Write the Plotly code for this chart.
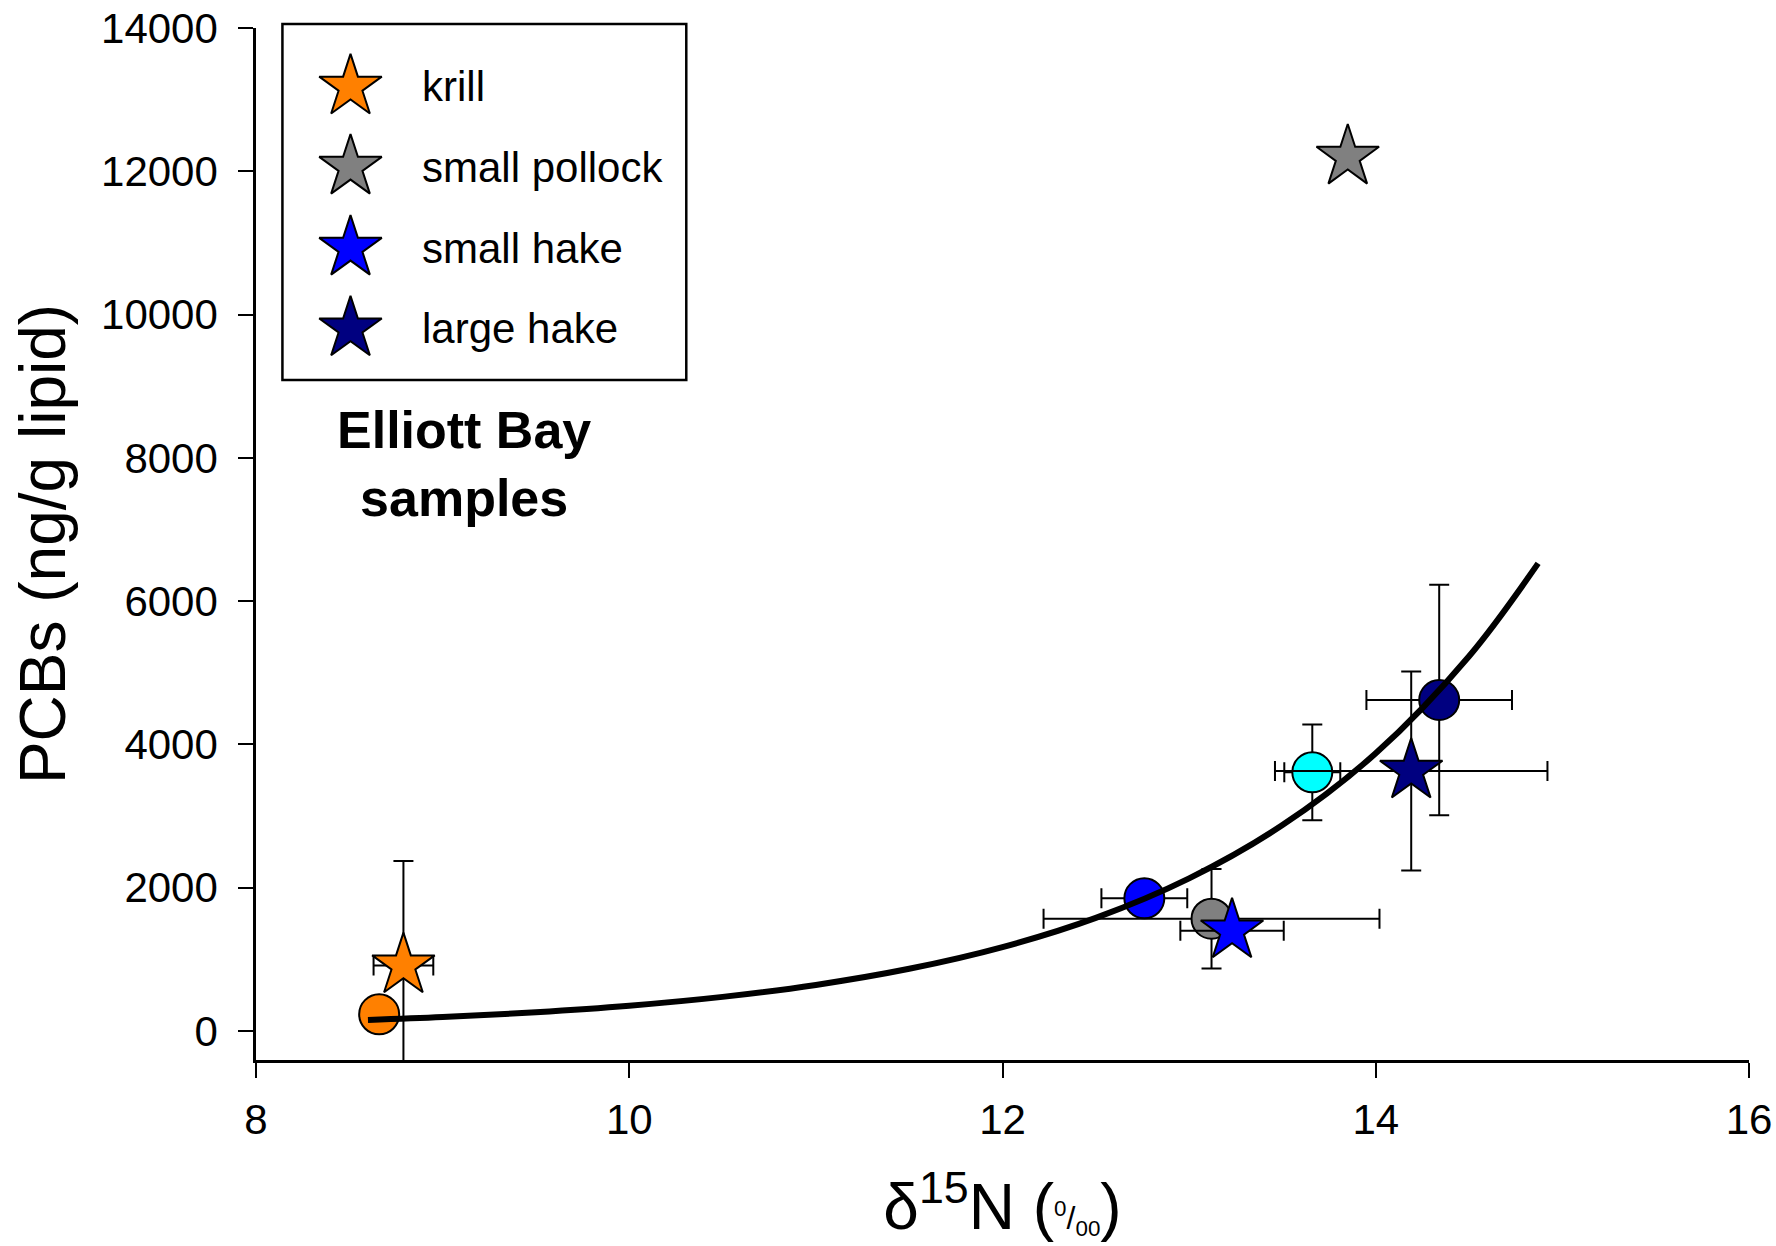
import plotly.graph_objects as go

# ---------------- data ----------------
# circles (other sample set, no legend entry)
circle_x = [8.66, 12.76, 13.12, 13.66, 14.34]
circle_y = [233, 1852, 1567, 3611, 4620]
circle_xerr = [0, 0.23, 0.90, 0.15, 0.39]
circle_yerr = [0, 0, 695, 668, 1607]
circle_colors = ["#FF8000", "#0000FF", "#808080", "#00FFFF", "#000080"]

# stars (Elliott Bay samples)
star_names = ["krill", "small pollock", "small hake", "large hake"]
star_x = [8.79, 13.85, 13.23, 14.19]
star_y = [913, 12200, 1400, 3630]
star_xerr = [0.16, 0, 0.277, 0.73]
star_yerr = [1460, 0, 0, 1389]
star_colors = ["#FF8000", "#808080", "#0000FF", "#000080"]

# fitted curve, points
curve_x = [8.6, 9.0, 9.5, 10.0, 10.5, 11.0, 11.5, 12.0, 12.5, 13.0, 13.5, 14.0, 14.5, 14.87]
curve_y = [153, 194, 262, 353, 476, 643, 868, 1171, 1579, 2130, 2874, 3876, 5231, 6527]

x_ticks = [8, 10, 12, 14, 16]
y_ticks = [0, 2000, 4000, 6000, 8000, 10000, 12000, 14000]

FONT = "Liberation Sans, Arial, sans-serif"

fig = go.Figure()

fig.add_trace(go.Scatter(
    x=circle_x, y=circle_y, mode="markers", showlegend=False,
    marker=dict(symbol="circle", size=40, color=circle_colors,
                line=dict(color="black", width=2)),
    error_x=dict(type="data", array=circle_xerr, color="black", thickness=2, width=10),
    error_y=dict(type="data", array=circle_yerr, color="black", thickness=2, width=10),
))

fig.add_trace(go.Scatter(
    x=star_x, y=star_y, mode="markers", showlegend=False, text=star_names,
    marker=dict(symbol="star", size=47, color=star_colors,
                line=dict(color="black", width=2)),
    error_x=dict(type="data", array=star_xerr, color="black", thickness=2, width=10),
    error_y=dict(type="data", array=star_yerr, color="black", thickness=2, width=10),
))

fig.add_trace(go.Scatter(
    x=curve_x, y=curve_y, mode="lines", showlegend=False,
    line=dict(color="black", width=6, shape="spline"),
))

# ---------------- custom legend (large star symbols) ----------------
leg_star_x = 0.0633
leg_ys = [0.943, 0.8653, 0.7868, 0.7087]
leg_text_x = 0.1101
fig.add_trace(go.Scatter(
    x=[leg_star_x] * len(star_names), y=leg_ys, xaxis="x2", yaxis="y2",
    mode="markers", showlegend=False, hoverinfo="skip", cliponaxis=False,
    marker=dict(symbol="star", size=47, color=star_colors,
                line=dict(color="black", width=2)),
))
for name, yy in zip(star_names, leg_ys):
    fig.add_annotation(x=leg_text_x, y=yy, xref="paper", yref="paper",
                       text=name, showarrow=False, xanchor="left", yanchor="middle",
                       font=dict(family=FONT, size=42, color="black"))
fig.add_shape(type="rect", xref="paper", yref="paper",
              x0=0.0177, x1=0.2882, y0=0.6589, y1=1.0039,
              line=dict(color="black", width=2.5), fillcolor="rgba(0,0,0,0)")

fig.add_annotation(x=0.1396, y=0.578, xref="paper", yref="paper",
                   text="<b>Elliott Bay<br>samples</b>", showarrow=False,
                   xanchor="center", yanchor="middle", align="center",
                   font=dict(family=FONT, size=52, color="black"))

fig.update_layout(
    width=1776, height=1246,
    paper_bgcolor="white", plot_bgcolor="white",
    margin=dict(l=255.5, r=26.5, t=28, b=186, autoexpand=False),
    font=dict(family=FONT, color="black"),
    xaxis=dict(
        range=[8, 16], tickvals=x_ticks, ticktext=[str(v) for v in x_ticks],
        showgrid=False, zeroline=False, showline=True, linecolor="black", linewidth=2.5,
        ticks="outside", ticklen=15, tickwidth=2, tickcolor="black", automargin=False,
        tickfont=dict(family=FONT, size=42), ticklabelstandoff=6,
        title=dict(text="δ<sup>15</sup>N (<span style='font-size:32px'><sup>0</sup>/<sub>00</sub></span>)",
                   font=dict(family=FONT, size=64), standoff=43),
    ),
    yaxis=dict(
        range=[-405, 14000], tickvals=y_ticks, ticktext=[str(v) for v in y_ticks],
        showgrid=False, zeroline=False, showline=True, linecolor="black", linewidth=2.5,
        ticks="outside", ticklen=15, tickwidth=2, tickcolor="black", automargin=False,
        tickfont=dict(family=FONT, size=42), ticklabelstandoff=12,
        title=dict(text="PCBs (ng/g lipid)", font=dict(family=FONT, size=64), standoff=15),
    ),
    xaxis2=dict(overlaying="x", range=[0, 1], visible=False, fixedrange=True),
    yaxis2=dict(overlaying="y", range=[0, 1], visible=False, fixedrange=True),
)

fig.write_html("out.html", config={"displayModeBar": False},
               post_script="document.body.style.margin='0';")
